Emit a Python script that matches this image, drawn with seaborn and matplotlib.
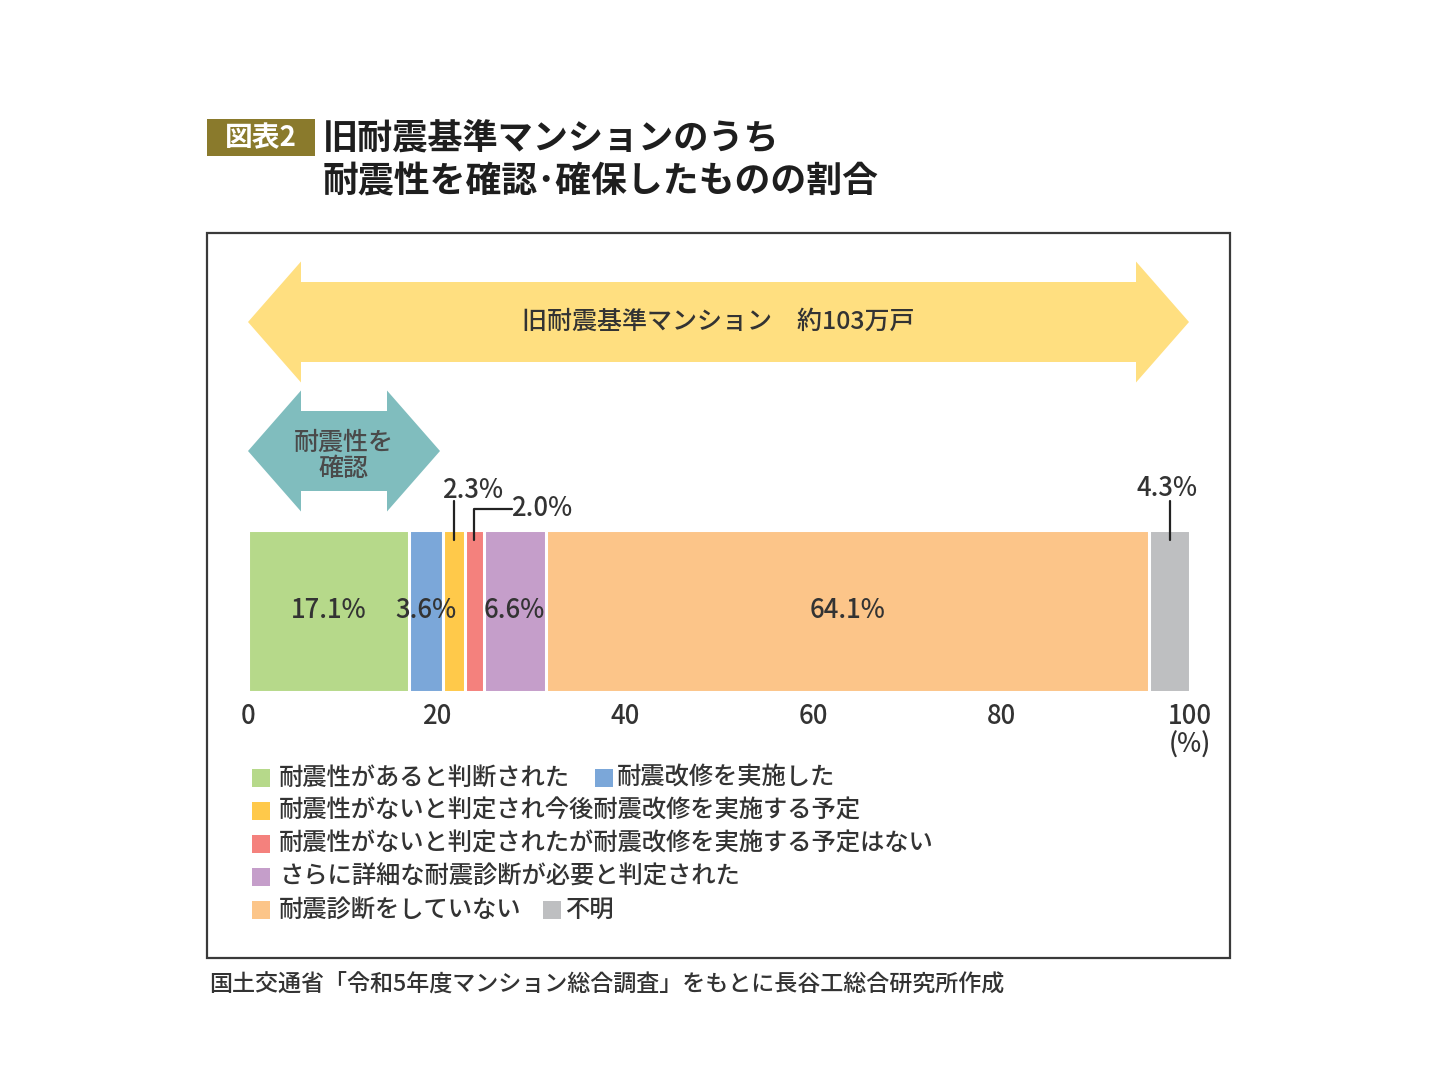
import matplotlib
matplotlib.use("Agg")
import matplotlib.pyplot as plt
from matplotlib.patches import Polygon, Rectangle
import numpy as np
import seaborn as sns

# ---------------- data ----------------
categories = [
    "耐震性があると判断された",
    "耐震改修を実施した",
    "耐震性がないと判定され今後耐震改修を実施する予定",
    "耐震性がないと判定されたが耐震改修を実施する予定はない",
    "さらに詳細な耐震診断が必要と判定された",
    "耐震診断をしていない",
    "不明",
]
values = [17.1, 3.6, 2.3, 2.0, 6.6, 64.1, 4.3]
colors = ["#B6D98A", "#7BA7D9", "#FFC94A", "#F4817D", "#C59ECA", "#FCC589", "#BEBFC1"]
tick_values = [0, 20, 40, 60, 80, 100]

title_tag = "図表2"
title_lines = ["旧耐震基準マンションのうち", "耐震性を確認･確保したものの割合"]
big_arrow_text = "旧耐震基準マンション　約103万戸"
small_arrow_text = "耐震性を\n確認"
unit_text = "(%)"
source_text = "国土交通省「令和5年度マンション総合調査」をもとに長谷工総合研究所作成"

# ---------------- style ----------------
sns.set_theme(style="white")
plt.rcParams["font.family"] = ["Noto Sans CJK JP", "DejaVu Sans"]
TXT = "#333333"
MW = "medium"
NUM_FS = 18.5

W, H = 1440, 1080
fig = plt.figure(figsize=(W / 100, H / 100), dpi=100)
fig.patch.set_facecolor("white")

# overlay axes in pixel coordinates
ov = fig.add_axes([0, 0, 1, 1])
ov.set_xlim(0, W)
ov.set_ylim(H, 0)
ov.axis("off")

# frame
ov.add_patch(Rectangle((207, 233), 1230 - 207, 958 - 233, fill=False,
                       edgecolor="#3a3a3a", linewidth=1.6))

# title
ov.add_patch(Rectangle((207, 119), 315 - 207, 156 - 119, facecolor="#8A7A2C", edgecolor="none"))
ov.text(261, 138, title_tag, color="white", fontsize=20, fontweight="bold", ha="center", va="center")
ov.text(323, 138, title_lines[0], color="#1e1e1e", fontsize=25.3, fontweight="bold", ha="left", va="center")
ov.text(323, 182, title_lines[1], color="#1e1e1e", fontsize=25.8, fontweight="bold", ha="left", va="center")

def double_arrow(x0, x1, yc, head_h, shaft_h, head_w):
    return [(x0, yc), (x0 + head_w, yc - head_h / 2), (x0 + head_w, yc - shaft_h / 2),
            (x1 - head_w, yc - shaft_h / 2), (x1 - head_w, yc - head_h / 2), (x1, yc),
            (x1 - head_w, yc + head_h / 2), (x1 - head_w, yc + shaft_h / 2),
            (x0 + head_w, yc + shaft_h / 2), (x0 + head_w, yc + head_h / 2)]

ov.add_patch(Polygon(double_arrow(248, 1189, 322, 121, 80, 53), closed=True,
                     facecolor="#FFDF80", edgecolor="none"))
ov.text(718, 322, big_arrow_text, color=TXT, fontsize=18, fontweight=MW, ha="center", va="center")

ov.add_patch(Polygon(double_arrow(248, 440, 451, 121, 80, 53), closed=True,
                     facecolor="#80BDBE", edgecolor="none"))
ov.text(344, 456, small_arrow_text, color="#4a4a4a", fontsize=18, fontweight=MW,
        ha="center", va="center", linespacing=1.05)

# ---------------- bar ----------------
ax = fig.add_axes([248 / W, 1 - 692 / H, 942 / W, 162 / H])
ax.patch.set_alpha(0)
cums = np.cumsum(values)
lefts = cums - np.array(values)
for i in range(len(values) - 1, -1, -1):
    sns.barplot(x=[cums[i]], y=[""], orient="h", color=colors[i], saturation=1,
                width=1.0, edgecolor="white", linewidth=2.2, errorbar=None, ax=ax)
ax.set_xlim(0, 100)
ax.set_ylim(0.5, -0.5)
ax.set_xticks(tick_values)
ax.set_xticklabels([str(t) for t in tick_values], fontweight=MW)
ax.tick_params(axis="x", length=0, pad=8, labelsize=NUM_FS, labelcolor=TXT)
ax.set_yticks([])
ax.set_xlabel("")
ax.set_ylabel("")
for s in ax.spines.values():
    s.set_visible(False)

# labels inside
inside = [0, 1, 4, 5]
for i in inside:
    ax.text(lefts[i] + values[i] / 2, 0, f"{values[i]:.1f}%", ha="center", va="center",
            fontsize=NUM_FS, fontweight=MW, color=TXT)

tr = ax.get_xaxis_transform()
def ay(py):
    return (692 - py) / 162

lw = 1.6
# 2.3%
c = lefts[2] + values[2] / 2
ax.plot([c, c], [ay(540), ay(501)], color="#222222", lw=lw, transform=tr, clip_on=False)
ax.text(c + 2.0, ay(490), f"{values[2]:.1f}%", transform=tr, ha="center", va="center",
        fontsize=NUM_FS, fontweight=MW, color=TXT)
# 2.0%
c = lefts[3] + values[3] / 2
ax.plot([c, c, c + 4.0], [ay(540), ay(509), ay(509)], color="#222222", lw=lw,
        transform=tr, clip_on=False)
ax.text(c + 3.9, ay(508), f"{values[3]:.1f}%", transform=tr, ha="left", va="center",
        fontsize=NUM_FS, fontweight=MW, color=TXT)
# 4.3%
c = lefts[6] + values[6] / 2
ax.plot([c, c], [ay(540), ay(501)], color="#222222", lw=lw, transform=tr, clip_on=False)
ax.text(c - 0.3, ay(489), f"{values[6]:.1f}%", transform=tr, ha="center", va="center",
        fontsize=NUM_FS, fontweight=MW, color=TXT)

ax.text(100, ay(745), unit_text, transform=tr, ha="center", va="center",
        fontsize=NUM_FS, fontweight=MW, color=TXT)

# ---------------- legend (manual layout) ----------------
rows = [[0, 1], [2], [3], [4], [5, 6]]
row_y0, row_dy = 778, 33
second_x = {1: 595, 6: 543}
for r, items in enumerate(rows):
    y = row_y0 + r * row_dy
    for k, idx in enumerate(items):
        x = 252 if k == 0 else second_x[idx]
        ov.add_patch(Rectangle((x, y - 9), 18, 18, facecolor=colors[idx], edgecolor="none"))
        ov.text(x + (27 if k == 0 else 22), y, categories[idx], fontsize=17.5,
                fontweight=MW, color=TXT, ha="left", va="center")

ov.text(209, 985, source_text, fontsize=16.6, fontweight=MW, color=TXT, ha="left", va="center")

fig.savefig("out.png", dpi=100, facecolor="white")
